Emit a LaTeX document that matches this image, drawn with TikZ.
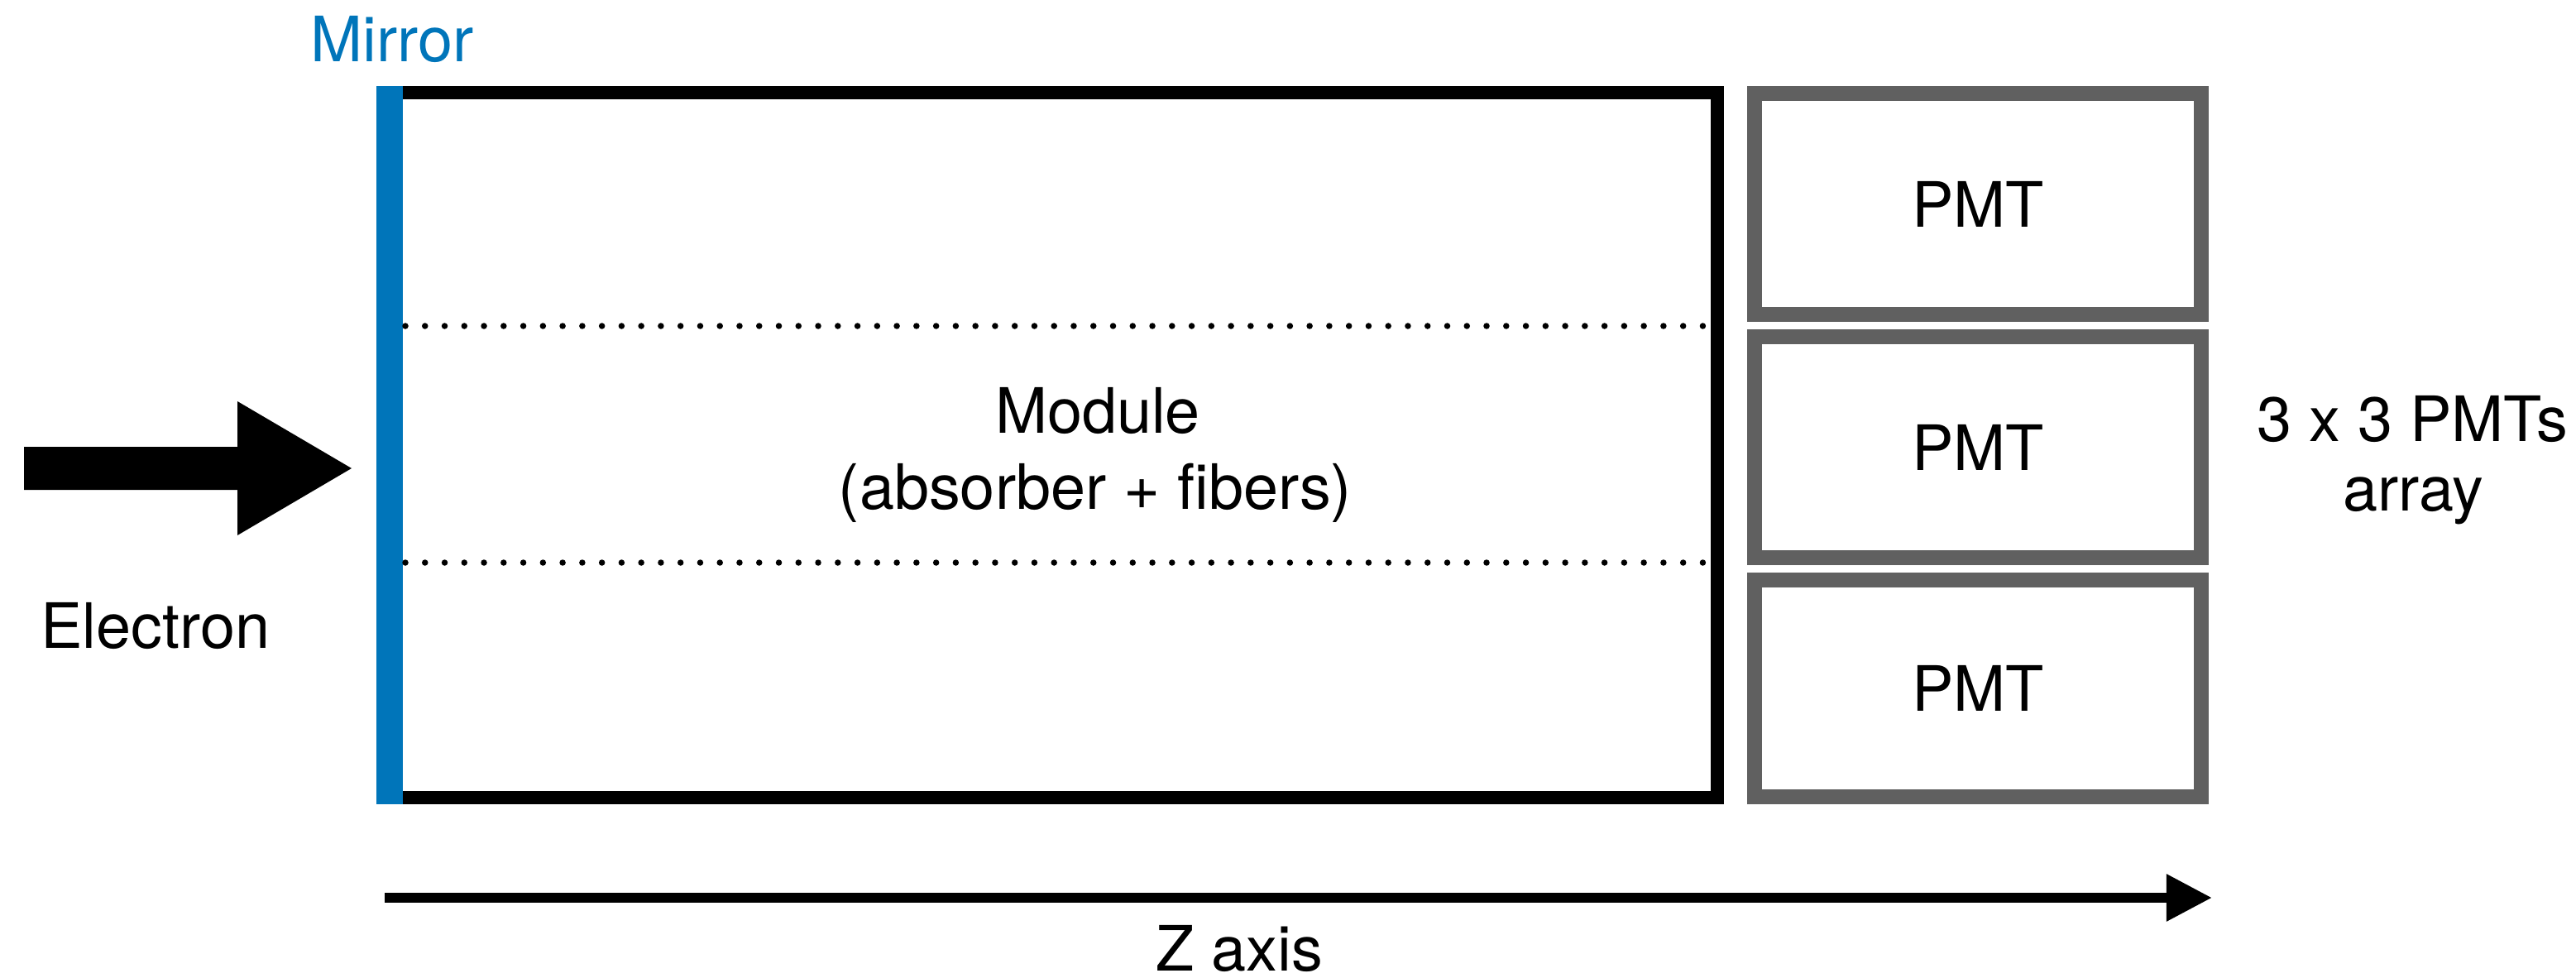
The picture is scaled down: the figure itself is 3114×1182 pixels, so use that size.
\documentclass[tikz,border=0pt]{standalone}
\usepackage{fontspec}
\setmainfont{TeX Gyre Heros}
\usetikzlibrary{arrows.meta}
\definecolor{mirrorblue}{RGB}{0,117,186}
\definecolor{pmtgray}{RGB}{96,96,96}
\begin{document}
\begin{tikzpicture}[x=0.01cm, y=-0.01cm,
  lbl/.style={font=\fontsize{21.5}{26}\selectfont, inner sep=0pt, outer sep=0pt, anchor=base},
  modulebox/.style={draw=black, line width=0.16cm, minimum width=15.97cm,
    minimum height=8.52cm, inner sep=0pt, outer sep=0pt},
  pmtbox/.style={draw=pmtgray, line width=0.18cm, minimum width=5.40cm,
    inner sep=0pt, outer sep=0pt, font=\fontsize{21.5}{26}\selectfont},
  fiberline/.style={line width=0.075cm, line cap=round, dash pattern=on 0pt off 0.2375cm},
  axisarrow/.style={line width=0.12cm, -{Triangle[length=0.55cm, width=0.54cm]}}]
\useasboundingbox (0,0) rectangle (3114,1182);

% calorimeter module with its mirror on the front face
\node[modulebox] (module) at (1277.5,538) {};
\node[fill=mirrorblue, minimum width=0.32cm, minimum height=8.68cm,
      inner sep=0pt, outer sep=0pt] (mirror) at (471,538) {};
\node[lbl, text=mirrorblue] (mirrorlabel) at (474,75) {Mirror};

% fibre layers inside the module
\coordinate (fa1) at (490,394);  \coordinate (fb1) at (2061,394);
\coordinate (fa2) at (490,680);  \coordinate (fb2) at (2061,680);
\draw[fiberline] (fa1) -- (fb1);
\draw[fiberline] (fa2) -- (fb2);

\node[lbl] (modlabel1) at (1327,523) {Module};
\node[lbl] (modlabel2) at (1324,615) {(absorber + fibers)};

% incoming electron
\coordinate (e1) at (29,540);
\coordinate (e2) at (287,540);
\coordinate (e3) at (287,485);
\coordinate (etip) at (425,566);
\coordinate (e5) at (287,647);
\coordinate (e6) at (287,592);
\coordinate (e7) at (29,592);
\fill[black] (e1) -- (e2) -- (e3) -- (etip) -- (e5) -- (e6) -- (e7) -- cycle;
\node[lbl] (electron) at (188,783) {Electron};

% PMT readout
\node[pmtbox, minimum height=2.67cm] (pmt1) at (2391,246.5) {PMT};
\node[pmtbox, minimum height=2.67cm] (pmt2) at (2391,540.5) {PMT};
\node[pmtbox, minimum height=2.62cm] (pmt3) at (2391,832) {PMT};
\node[lbl] (arr1) at (2916,533) {3 x 3 PMTs};
\node[lbl] (arr2) at (2917,617) {array};

% longitudinal axis
\coordinate (zstart) at (465,1085);
\coordinate (zend) at (2674,1085);
\draw[axisarrow] (zstart) -- (zend);
\node[lbl] (zlabel) at (1498,1173) {Z axis};
\end{tikzpicture}
\end{document}
